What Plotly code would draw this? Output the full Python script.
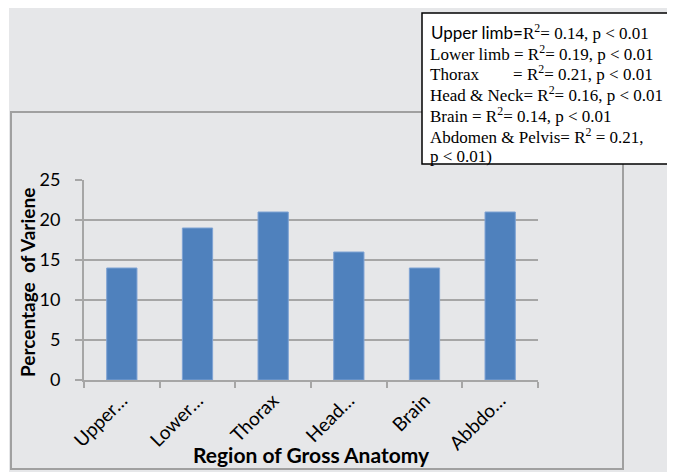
import plotly.graph_objects as go

categories = ["Upper limb", "Lower limb", "Thorax", "Head & Neck", "Brain", "Abbdomen & Pelvis"]
tick_labels = ["Upper…", "Lower…", "Thorax", "Head…", "Brain", "Abbdo…"]
values = [14, 19, 21, 16, 14, 21]
y_ticks = [0, 5, 10, 15, 20, 25]

x_title = "Region of Gross Anatomy"
y_title = "Percentage  of Variene"
legend_first_label = "Upper limb="
legend_lines = [
    'R<sup>2</sup>= 0.14, p &lt; 0.01',
    'Lower limb = R<sup>2</sup>= 0.19, p &lt; 0.01',
    'Thorax &nbsp;&nbsp;&nbsp;&nbsp;&nbsp;&nbsp;&nbsp;= R<sup>2</sup>= 0.21, p &lt; 0.01',
    'Head &amp; Neck= R<sup>2</sup>= 0.16, p &lt; 0.01',
    'Brain = R<sup>2</sup>= 0.14, p &lt; 0.01',
    'Abdomen &amp; Pelvis= R<sup>2</sup> = 0.21,',
    'p &lt; 0.01)',
]

# the page body has an 8px margin, so the figure is drawn 8px in from the corner
OFF = 8
W, H = 675 - OFF, 472 - OFF
L, R, T, B = 84 - OFF, 538 - OFF, 180 - OFF, 380 - OFF
GRAY = "#e6e7e9"
GRID = "#a6a6a6"
SANS = "Lato, 'Open Sans', sans-serif"
SERIF = "'Liberation Serif', 'Times New Roman', serif"


def px(x):
    return (x - OFF - L) / (R - L)


def py(y):
    return (B - (y - OFF)) / (B - T)


fig = go.Figure(go.Bar(
    x=tick_labels, y=values,
    marker=dict(color="#4f81bd", line=dict(color="#7fa3d4", width=1)),
    width=0.4,
))

annotations = [
    dict(xref="paper", yref="paper", x=px(429), y=py(32),
         xanchor="left", yanchor="middle", showarrow=False,
         text=legend_first_label, font=dict(family=SANS, size=17, color="black")),
    dict(xref="paper", yref="paper", x=px(311), y=py(454),
         xanchor="center", yanchor="middle", showarrow=False,
         text="<b>" + x_title + "</b>", font=dict(family=SANS, size=21, color="black")),
    dict(xref="paper", yref="paper", x=px(27), y=py(283),
         xanchor="center", yanchor="middle", showarrow=False, textangle=-90,
         text="<b>" + y_title + "</b>", font=dict(family=SANS, size=19, color="black")),
]
first_x = [521] + [428] * (len(legend_lines) - 1)
for i, line in enumerate(legend_lines):
    annotations.append(dict(
        xref="paper", yref="paper", x=px(first_x[i]), y=py(32 + 20.7 * i),
        xanchor="left", yanchor="middle", align="left", showarrow=False,
        text=line, font=dict(family=SERIF, size=17, color="black")))

fig.update_layout(
    width=W, height=H,
    paper_bgcolor="white", plot_bgcolor=GRAY,
    margin=dict(l=L, r=W - R, t=T, b=H - B, autoexpand=False),
    showlegend=False,
    font=dict(family=SANS, size=16, color="black"),
    xaxis=dict(
        automargin=False,
        showline=True, linecolor=GRID, linewidth=2,
        ticks="outside", tickson="boundaries", ticklen=6, tickcolor=GRID, tickwidth=2,
        tickangle=-45, tickfont=dict(size=19, family=SANS),
        showgrid=False,
    ),
    yaxis=dict(
        automargin=False,
        range=[0, 25], tickvals=y_ticks,
        showline=True, linecolor=GRID, linewidth=2,
        ticks="outside", ticklen=7, tickcolor=GRID, tickwidth=2,
        ticklabelstandoff=11,
        showgrid=True, gridcolor=GRID, gridwidth=2,
        zeroline=False,
        tickfont=dict(size=18, family=SANS),
    ),
    shapes=[
        dict(type="rect", xref="paper", yref="paper",
             x0=px(9), x1=px(674), y0=py(473), y1=py(7),
             fillcolor=GRAY, line=dict(width=0), layer="below"),
        dict(type="rect", xref="paper", yref="paper",
             x0=px(11), x1=px(623), y0=py(469), y1=py(112),
             fillcolor="rgba(0,0,0,0)", line=dict(color="#a0a0a0", width=2), layer="below"),
        dict(type="rect", xref="paper", yref="paper",
             x0=px(422), x1=px(669), y0=py(164), y1=py(13),
             fillcolor="white", line=dict(color="black", width=1.5), layer="above"),
    ],
    annotations=annotations,
)

fig.write_html("out.html")
